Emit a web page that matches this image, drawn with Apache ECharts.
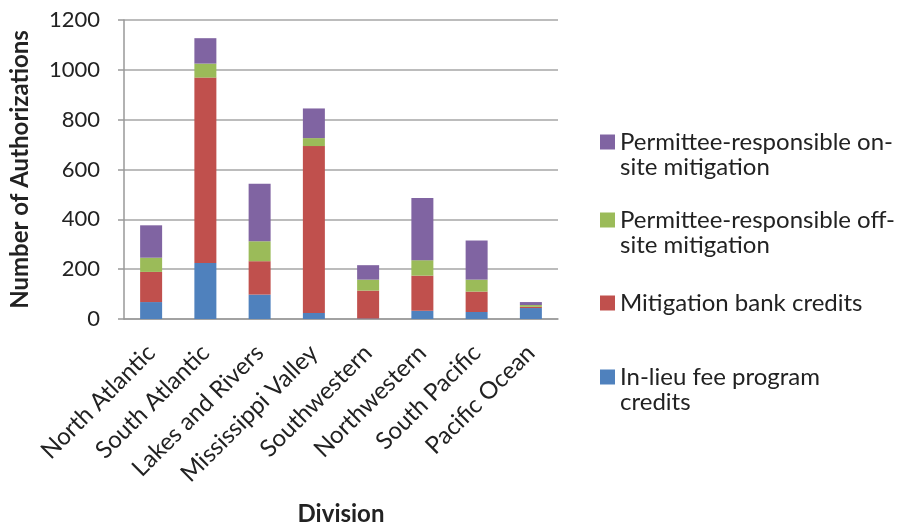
<!DOCTYPE html>
<html>
<head>
<meta charset="utf-8">
<script src="https://cdn.jsdelivr.net/npm/echarts@6/dist/echarts.min.js"></script>
<style>
  html, body { margin: 0; padding: 0; background: #fff; }
  #chart { width: 909px; height: 527px; }
</style>
</head>
<body>
<div id="chart"></div>
<script>
const divisions = ['North Atlantic', 'South Atlantic', 'Lakes and Rivers', 'Mississippi Valley',
    'Southwestern', 'Northwestern', 'South Pacific', 'Pacific Ocean'];
const inLieuFee = [68, 225, 98, 24, 2, 33, 28, 44];
const bankCredits = [121, 744, 134, 670, 112, 141, 82, 5];
const offSite = [57, 56, 80, 32, 44, 62, 48, 7];
const onSite = [130, 102, 231, 119, 58, 250, 157, 12];
const yTicks = [0, 200, 400, 600, 800, 1000, 1200];

const names = {
    blue: 'In-lieu fee program credits',
    red: 'Mitigation bank credits',
    green: 'Permittee-responsible off-site mitigation',
    purple: 'Permittee-responsible on-site mitigation'
};
// how the legend wraps its names
const legendText = {
    [names.purple]: ['Permittee-responsible on-', 'site mitigation'],
    [names.green]: ['Permittee-responsible off-', 'site mitigation'],
    [names.red]: ['Mitigation bank credits'],
    [names.blue]: ['In-lieu fee program', 'credits']
};

const font = 'Lato, "Open Sans", sans-serif';

const makeLegend = (name, top) => ({
    data: [name],
    left: 600,
    top: top,
    padding: 0,
    itemWidth: 15,
    itemHeight: 15,
    icon: 'rect',
    selectedMode: false,
    formatter: n => {
        const lines = legendText[n];
        if (lines.length === 1) return '{a|' + lines[0] + '}';
        // blank first line keeps the icon level with the first text line
        return '{s| }\n{a|' + lines[0] + '}\n{a|' + lines[1] + '}';
    },
    textStyle: {
        rich: {
            a: { fontSize: 24, fontFamily: font, color: '#222', lineHeight: 25 },
            s: { fontSize: 20, lineHeight: 25 }
        }
    }
});

const chart = echarts.init(document.getElementById('chart'));
const makeSeries = (name, data, color) => ({
    name: name,
    type: 'bar',
    stack: 'total',
    data: data,
    barWidth: 22,
    itemStyle: { color: color },
    emphasis: { disabled: true }
});

chart.setOption({
    animation: false,
    grid: { left: 124, right: 351, top: 20, bottom: 208, outerBoundsMode: 'none' },
    legend: [
        makeLegend(names.purple, 107),
        makeLegend(names.green, 185),
        makeLegend(names.red, 291),
        makeLegend(names.blue, 342)
    ],
    xAxis: {
        type: 'category',
        data: divisions,
        name: 'Division',
        nameLocation: 'middle',
        nameGap: 183,
        nameTextStyle: { fontSize: 24, fontWeight: 'bold', fontFamily: font, color: '#222' },
        axisLine: { lineStyle: { color: '#999', width: 1.5 } },
        axisTick: { length: 6, lineStyle: { color: '#999', width: 1.5 } },
        axisLabel: { rotate: 45, fontSize: 24, fontFamily: font, color: '#222', margin: 30, interval: 0 }
    },
    yAxis: {
        type: 'value',
        min: 0,
        max: yTicks[yTicks.length - 1],
        interval: yTicks[1] - yTicks[0],
        name: 'Number of Authorizations',
        nameLocation: 'middle',
        nameGap: 92,
        nameTextStyle: { fontSize: 24, fontWeight: 'bold', fontFamily: font, color: '#222' },
        axisLine: { show: true, lineStyle: { color: '#999', width: 1.5 } },
        axisTick: { show: true, length: 6, lineStyle: { color: '#999', width: 1.5 } },
        axisLabel: { fontSize: 22, fontFamily: font, color: '#222', margin: 24, formatter: v => String(v) },
        splitLine: { lineStyle: { color: '#a6a6a6', width: 1.5 } }
    },
    series: [
        makeSeries(names.blue, inLieuFee, '#4F81BD'),
        makeSeries(names.red, bankCredits, '#C0504D'),
        makeSeries(names.green, offSite, '#9BBB59'),
        makeSeries(names.purple, onSite, '#8064A2')
    ]
});
</script>
</body>
</html>
